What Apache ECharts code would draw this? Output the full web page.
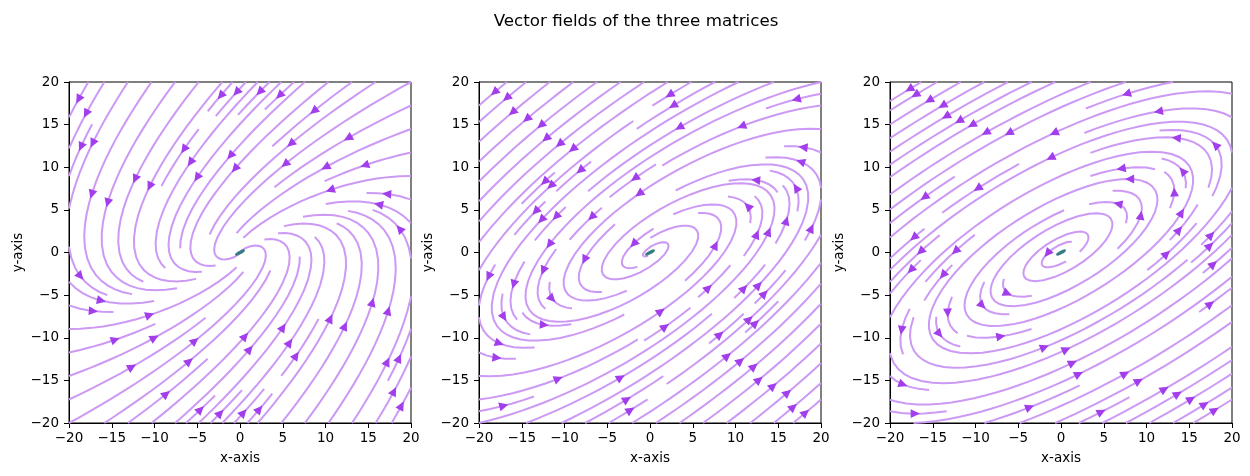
<!DOCTYPE html>
<html>
<head>
<meta charset="utf-8">
<title>Vector fields of the three matrices</title>
<script src="https://cdn.jsdelivr.net/npm/echarts@6/dist/echarts.min.js"></script>
<style>
  html, body { margin: 0; padding: 0; background: #fff; }
  #chart { width: 1250px; height: 476px; }
</style>
</head>
<body>
<div id="chart"></div>
<script>
// the three matrices A of dx/dt = A x
const matrixLeft = [[-0.2, -2], [1, -2.2]];
const matrixMiddle = [[0.7, -2], [1, -1.3]];
const matrixRight = [[1.1, -2], [1, -0.9]];
const matrices = [matrixLeft, matrixMiddle, matrixRight];

const axisMin = -20;
const axisMax = 20;
const tickStep = 5;
const meshSize = 100;      // points per side of the sampling meshgrid
const originMark = [0, 0]; // small teal marker at the fixed point

const fontFamily = 'DejaVu Sans';
const lineColor = '#cc99f4';
const arrowColor = '#a23eeb';
const markColor = '#367c84';

// python-style round (half to even)
function pyRound(v) {
  const f = Math.floor(v);
  if (v - f === 0.5) return f % 2 === 0 ? f : f + 1;
  return Math.round(v);
}

// same walk as matplotlib's streamplot: 30x30 mask, rk12, spiral start points
function streamplot(A, lo, hi, n) {
  const nx = n, ny = n, width = hi - lo;
  const step = width / (n - 1);
  const U = [], V = [], S = [];
  for (let j = 0; j < ny; j++) {
    const ur = [], vr = [], sr = [];
    for (let i = 0; i < nx; i++) {
      const x = lo + i * step, y = lo + j * step;
      const ug = (A[0][0] * x + A[0][1] * y) * (nx - 1) / width;
      const vg = (A[1][0] * x + A[1][1] * y) * (ny - 1) / width;
      ur.push(ug); vr.push(vg);
      sr.push(Math.hypot(ug / (nx - 1), vg / (ny - 1)));
    }
    U.push(ur); V.push(vr); S.push(sr);
  }

  const mnx = 30, mny = 30;
  const mask = [];
  for (let j = 0; j < mny; j++) mask.push(new Array(mnx).fill(0));
  const g2mx = (mnx - 1) / (nx - 1), g2my = (mny - 1) / (ny - 1);
  let current = null;
  let cells = [];

  const within = (xi, yi) => xi >= 0 && xi <= nx - 1 && yi >= 0 && yi <= ny - 1;

  function interp(a, xi, yi) {
    const x = Math.floor(xi), y = Math.floor(yi);
    const xn = x === nx - 1 ? x : x + 1;
    const yn = y === ny - 1 ? y : y + 1;
    const xt = xi - x, yt = yi - y;
    const a0 = a[y][x] * (1 - xt) + a[y][xn] * xt;
    const a1 = a[yn][x] * (1 - xt) + a[yn][xn] * xt;
    return a0 * (1 - yt) + a1 * yt;
  }

  function markCell(xm, ym) {
    if (current && current[0] === xm && current[1] === ym) return true;
    if (mask[ym][xm] === 0) {
      cells.push([ym, xm]);
      mask[ym][xm] = 1;
      current = [xm, ym];
      return true;
    }
    return false;
  }

  function f(xi, yi, sign) {
    if (!within(xi, yi)) throw 'out';
    const dsdt = interp(S, xi, yi);
    if (dsdt === 0) throw 'stop';
    const dtds = 1 / dsdt;
    return [sign * interp(U, xi, yi) * dtds, sign * interp(V, xi, yi) * dtds];
  }

  function euler(traj, sign) {
    const [xi, yi] = traj[traj.length - 1];
    const [cx, cy] = f(xi, yi, sign);
    let dsx, dsy;
    if (cx === 0) dsx = Infinity; else if (cx < 0) dsx = xi / -cx; else dsx = (nx - 1 - xi) / cx;
    if (cy === 0) dsy = Infinity; else if (cy < 0) dsy = yi / -cy; else dsy = (ny - 1 - yi) / cy;
    const ds = Math.min(dsx, dsy);
    traj.push([xi + cx * ds, yi + cy * ds]);
    return ds;
  }

  function rk12(x0, y0, sign) {
    const maxerror = 0.003;
    const maxds = Math.min(1 / mnx, 1 / mny, 0.1);
    let ds = maxds, stotal = 0, xi = x0, yi = y0;
    const traj = [];
    while (true) {
      let k1, k2;
      try {
        if (within(xi, yi)) traj.push([xi, yi]); else throw 'out';
        k1 = f(xi, yi, sign);
        k2 = f(xi + ds * k1[0], yi + ds * k1[1], sign);
      } catch (e) {
        if (e === 'out' && traj.length) stotal += euler(traj, sign);
        break;
      }
      const dx1 = ds * k1[0], dy1 = ds * k1[1];
      const dx2 = ds * 0.5 * (k1[0] + k2[0]), dy2 = ds * 0.5 * (k1[1] + k2[1]);
      const error = Math.hypot((dx2 - dx1) / (nx - 1), (dy2 - dy1) / (ny - 1));
      if (error < maxerror) {
        xi += dx2; yi += dy2;
        if (!within(xi, yi)) break;
        if (!markCell(pyRound(xi * g2mx), pyRound(yi * g2my))) break;
        if (stotal + ds > 4.0) break;
        stotal += ds;
      }
      ds = error === 0 ? maxds : Math.min(maxds, 0.85 * ds * Math.sqrt(maxerror / error));
    }
    return [stotal, traj];
  }

  function integrate(x0, y0) {
    cells = [];
    const sx = pyRound(x0 * g2mx), sy = pyRound(y0 * g2my);
    if (!markCell(sx, sy)) return null;
    const back = rk12(x0, y0, -1);
    current = [sx, sy];
    const fwd = rk12(x0, y0, 1);
    const total = back[0] + fwd[0];
    if (total > 0.1) return back[1].slice().reverse().concat(fwd[1].slice(1));
    for (const c of cells) mask[c[0]][c[1]] = 0;
    return null;
  }

  function* startPoints() {
    let xfirst = 0, yfirst = 1, xlast = mnx - 1, ylast = mny - 1;
    let x = 0, y = 0, dir = 'right';
    for (let i = 0; i < mnx * mny; i++) {
      yield [x, y];
      if (dir === 'right') { x += 1; if (x >= xlast) { xlast -= 1; dir = 'up'; } }
      else if (dir === 'up') { y += 1; if (y >= ylast) { ylast -= 1; dir = 'left'; } }
      else if (dir === 'left') { x -= 1; if (x <= xfirst) { xfirst += 1; dir = 'down'; } }
      else { y -= 1; if (y <= yfirst) { yfirst += 1; dir = 'right'; } }
    }
  }

  const lines = [], arrows = [];
  const d2g = (nx - 1) / width;
  for (const [xm, ym] of startPoints()) {
    if (mask[ym][xm] !== 0) continue;
    const t = integrate(xm * (1 / g2mx), ym * (1 / g2my));
    if (!t) continue;
    const pts = t.map(p => [p[0] / d2g + lo, p[1] / d2g + lo]);
    lines.push(pts);
    const s = [];
    let acc = 0;
    for (let i = 1; i < pts.length; i++) {
      acc += Math.hypot(pts[i][0] - pts[i - 1][0], pts[i][1] - pts[i - 1][1]);
      s.push(acc);
    }
    let k = 0;
    while (k < s.length && s[k] < acc / 2) k++;
    const tail = pts[k];
    const nxt = pts[Math.min(k + 1, pts.length - 1)];
    arrows.push([tail[0], tail[1], (tail[0] + nxt[0]) / 2, (tail[1] + nxt[1]) / 2]);
  }
  return { lines, arrows };
}

const fields = matrices.map(A => streamplot(A, axisMin, axisMax, meshSize));

const chart = echarts.init(document.getElementById('chart'));
const gridLefts = [69, 479, 890];
const minus = v => String(v).replace('-', '\u2212');

const grids = gridLefts.map(l => ({
  left: l, top: 82, width: 342, height: 341,
  show: true, borderColor: '#000', borderWidth: 1, backgroundColor: 'transparent'
}));

const axisText = { color: '#000', fontSize: 13.5, fontFamily };

const xAxes = gridLefts.map((l, k) => ({
  gridIndex: k, type: 'value', min: axisMin, max: axisMax, interval: tickStep,
  name: 'x-axis', nameLocation: 'middle', nameGap: 28, nameTextStyle: axisText,
  axisLine: { show: true, onZero: false, lineStyle: { color: '#000', width: 1 } },
  axisTick: { show: true, length: 5, lineStyle: { color: '#000', width: 1 } },
  axisLabel: Object.assign({ margin: 8, formatter: minus }, axisText),
  splitLine: { show: false }
}));

const yAxes = gridLefts.map((l, k) => ({
  gridIndex: k, type: 'value', min: axisMin, max: axisMax, interval: tickStep,
  name: 'y-axis', nameLocation: 'middle', nameGap: 44, nameTextStyle: axisText,
  axisLine: { show: true, onZero: false, lineStyle: { color: '#000', width: 1 } },
  axisTick: { show: true, length: 5, lineStyle: { color: '#000', width: 1 } },
  axisLabel: Object.assign({ margin: 10, formatter: minus }, axisText),
  splitLine: { show: false }
}));

const series = [];
fields.forEach((fd, k) => {
  series.push({
    type: 'lines', coordinateSystem: 'cartesian2d', xAxisIndex: k, yAxisIndex: k,
    polyline: true, silent: true, z: 2,
    lineStyle: { color: lineColor, width: 2, opacity: 1, cap: 'butt' },
    data: fd.lines.map(c => ({ coords: c }))
  });
  series.push({
    type: 'scatter', xAxisIndex: k, yAxisIndex: k, silent: true, z: 3,
    data: [originMark], symbol: 'circle', symbolSize: [11, 3.6], symbolRotate: 28,
    itemStyle: { color: markColor, opacity: 1 }
  });
  series.push({
    type: 'custom', xAxisIndex: k, yAxisIndex: k, silent: true, z: 4,
    encode: { x: [0, 2], y: [1, 3] },
    data: fd.arrows,
    renderItem(params, api) {
      const t = api.coord([api.value(0), api.value(1)]);
      const h = api.coord([api.value(2), api.value(3)]);
      const ang = Math.atan2(h[1] - t[1], h[0] - t[0]);
      const c = Math.cos(ang), s = Math.sin(ang);
      const len = 7, half = 3.4;
      const bx = h[0] - len * c, by = h[1] - len * s;
      return {
        type: 'polygon',
        shape: { points: [[h[0], h[1]], [bx - half * s, by + half * c], [bx + half * s, by - half * c]] },
        style: { fill: arrowColor, stroke: arrowColor, lineWidth: 1.3, lineJoin: 'miter' }
      };
    }
  });
});

chart.setOption({
  animation: false,
  backgroundColor: '#fff',
  title: {
    text: 'Vector fields of the three matrices',
    left: 631, top: 8, textAlign: 'center',
    textStyle: { color: '#000', fontSize: 16.7, fontWeight: 'normal', fontFamily }
  },
  grid: grids,
  xAxis: xAxes,
  yAxis: yAxes,
  series
});
</script>
</body>
</html>
